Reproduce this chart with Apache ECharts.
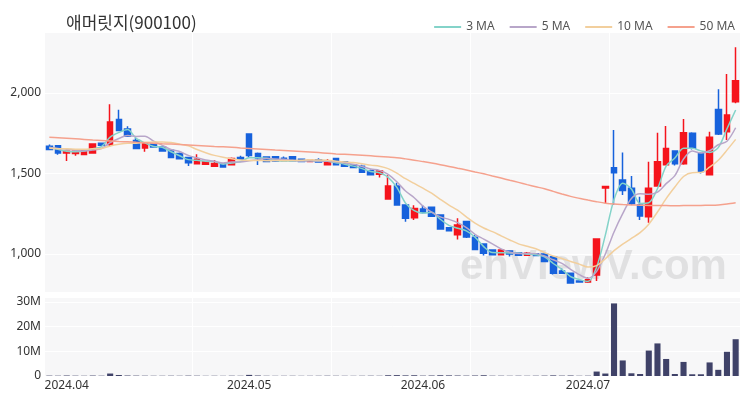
<!DOCTYPE html>
<html>
<head>
<meta charset="utf-8">
<script src="https://cdn.jsdelivr.net/npm/echarts@6/dist/echarts.min.js"></script>
<style>
  html, body { margin: 0; padding: 0; background: #fff; }
  #main { width: 750px; height: 400px; }
</style>
</head>
<body>
<div id="main"></div>
<script>
// trading days
var dates = [
  '2024-03-28','2024-03-29',
  '2024-04-01','2024-04-02','2024-04-03','2024-04-04','2024-04-05','2024-04-08','2024-04-09','2024-04-11','2024-04-12',
  '2024-04-15','2024-04-16','2024-04-17','2024-04-18','2024-04-19','2024-04-22','2024-04-23','2024-04-24','2024-04-25',
  '2024-04-26','2024-04-29','2024-04-30',
  '2024-05-02','2024-05-03','2024-05-07','2024-05-08','2024-05-09','2024-05-10','2024-05-13','2024-05-14','2024-05-16',
  '2024-05-17','2024-05-20','2024-05-21','2024-05-22','2024-05-23','2024-05-24','2024-05-27','2024-05-28','2024-05-29',
  '2024-05-30','2024-05-31',
  '2024-06-03','2024-06-04','2024-06-05','2024-06-07','2024-06-10','2024-06-11','2024-06-12','2024-06-13','2024-06-14',
  '2024-06-17','2024-06-18','2024-06-19','2024-06-20','2024-06-21','2024-06-24','2024-06-25','2024-06-26','2024-06-27',
  '2024-06-28',
  '2024-07-01','2024-07-02','2024-07-03','2024-07-04','2024-07-05','2024-07-08','2024-07-09','2024-07-10','2024-07-11',
  '2024-07-12','2024-07-15','2024-07-16','2024-07-17','2024-07-18','2024-07-19','2024-07-22','2024-07-23','2024-07-24'
];
var opens = [1670,1672,1628,1625,1618,1628,1688,1680,1836,1776,1705,1658,1683,1665,1644,1625,1600,1560,1558,1545,
  1558,1555,1600,1745,1625,1602,1604,1595,1604,1588,1575,1585,1555,1594,1573,1553,1545,1518,1495,1342,
  1422,1304,1225,1280,1290,1242,1163,1120,1202,1104,1062,1025,995,1018,1008,993,1002,1000,983,895,
  880,832,826,870,1410,1536,1460,1408,1304,1232,1422,1555,1640,1560,1750,1625,1492,1898,1760,1946];
var closes = [1650,1628,1638,1638,1642,1683,1676,1820,1768,1731,1655,1685,1665,1640,1600,1592,1567,1588,1573,1562,
  1540,1594,1588,1612,1596,1575,1578,1580,1580,1575,1582,1572,1575,1555,1545,1538,1508,1492,1515,1422,
  1305,1222,1283,1258,1235,1155,1145,1180,1105,1028,1005,995,1025,1000,992,1005,990,953,880,880,
  820,826,840,1093,1420,1505,1395,1312,1236,1408,1573,1656,1560,1753,1657,1512,1725,1746,1863,2076];
var lows = [1645,1617,1578,1610,1617,1625,1672,1668,1765,1728,1652,1636,1660,1636,1596,1588,1546,1557,1554,1540,
  1537,1550,1585,1600,1553,1572,1575,1577,1577,1572,1572,1570,1550,1552,1542,1535,1505,1490,1476,1340,
  1300,1200,1212,1252,1230,1150,1142,1090,1100,1025,990,992,993,985,990,990,988,950,873,876,
  815,822,820,832,1315,1304,1366,1305,1211,1194,1418,1550,1550,1555,1650,1500,1488,1740,1708,1936];
var highs = [1680,1675,1640,1645,1652,1686,1690,1930,1896,1793,1720,1692,1688,1670,1648,1630,1604,1619,1578,1584,
  1562,1600,1610,1748,1630,1605,1606,1605,1606,1590,1585,1595,1590,1598,1576,1556,1555,1525,1520,1490,
  1443,1306,1303,1304,1295,1245,1166,1222,1205,1118,1066,1030,1028,1022,1010,1012,1004,1003,985,911,
  885,836,855,1095,1421,1770,1630,1484,1356,1573,1753,1795,1645,1838,1757,1630,1760,2023,2118,2284];
var volumes = [150000,120000,200000,130000,100000,180000,120000,1000000,400000,200000,
  150000,120000,100000,100000,120000,100000,150000,120000,80000,100000,
  80000,120000,100000,450000,200000,100000,80000,90000,100000,80000,
  90000,100000,120000,100000,90000,80000,100000,120000,100000,300000,
  350000,250000,300000,150000,200000,300000,250000,200000,150000,200000,
  300000,120000,120000,100000,120000,100000,120000,150000,250000,150000,
  200000,100000,120000,1800000,1000000,29400000,6300000,1100000,800000,10300000,
  13200000,6900000,800000,5700000,700000,700000,5500000,2500000,9800000,14900000];
// closes before the first visible day (for 3/5/10 MA)
var prevCloses = [1655,1648,1660,1652,1645,1658,1662,1668,1672];
// 50 MA
var ma50 = [1725,1722,1719,1716,1712,1708,1705,1702,1699,1697,1694,1691,1688,1685,1683,1680,1677,1674,1671,1668,
  1666,1663,1659,1656,1653,1650,1646,1643,1640,1637,1634,1630,1626,1622,1619,1616,1613,1610,1606,1602,
  1598,1591,1583,1574,1565,1555,1544,1533,1522,1510,1498,1485,1472,1458,1445,1431,1418,1405,1389,1373,
  1358,1346,1335,1325,1316,1310,1307,1305,1303,1302,1301,1301,1300,1301,1301,1302,1303,1305,1310,1318];

var upColor = '#f5141c', downColor = '#1762dc';

function calcMA(n) {
  var all = prevCloses.concat(closes);
  var off = prevCloses.length;
  var res = [];
  for (var i = 0; i < closes.length; i++) {
    var sum = 0;
    for (var j = 0; j < n; j++) sum += all[off + i - j];
    res.push(+(sum / n).toFixed(1));
  }
  return res;
}

var kData = [];
for (var i = 0; i < dates.length; i++) {
  kData.push([opens[i], closes[i], lows[i], highs[i]]);
}

function monthStart(index) {
  return index > 0 && dates[index].slice(5, 7) !== dates[index - 1].slice(5, 7);
}
function vLine(index) {
  return index > 1 && index % 16 === 1;
}

var myChart = echarts.init(document.getElementById('main'));
var option = {
  animation: false,
  title: {
    text: '애머릿지(900100)',
    left: 61, top: 9,
    textStyle: { fontSize: 17, fontWeight: 'normal', color: '#333', fontFamily: 'Noto Sans CJK KR' }
  },
  legend: {
    right: 10, top: 16,
    itemWidth: 27, itemHeight: 2, itemGap: 14,
    textStyle: { fontSize: 12, color: '#555', fontFamily: 'Noto Sans' },
    data: ['3 MA', '5 MA', '10 MA', '50 MA']
  },
  graphic: [{
    type: 'text', left: 460, top: 246, z: 1, silent: true,
    style: { text: 'enVIewV.com', fill: 'rgba(0,0,0,0.09)', font: 'bold 42px "Liberation Sans", Arial, sans-serif' }
  }],
  grid: [
    { left: 45, right: 10, top: 33, height: 259, show: true, backgroundColor: '#f7f7f8', borderWidth: 0 },
    { left: 45, right: 10, top: 297, height: 79, show: true, backgroundColor: '#f7f7f8', borderWidth: 0 }
  ],
  xAxis: [
    {
      type: 'category', gridIndex: 0, data: dates, boundaryGap: true,
      axisLine: { show: false }, axisTick: { show: false }, axisLabel: { show: false },
      splitLine: { show: true, interval: vLine, lineStyle: { color: '#fff', width: 1 } }
    },
    {
      type: 'category', gridIndex: 1, data: dates, boundaryGap: true,
      axisLine: { show: false }, axisTick: { show: false },
      axisLabel: {
        interval: monthStart, margin: 4, fontSize: 12, color: '#333', fontFamily: 'Noto Sans',
        formatter: function (v) { return v.slice(0, 4) + '.' + v.slice(5, 7); }
      },
      splitLine: { show: true, interval: vLine, lineStyle: { color: '#fff', width: 1 } }
    }
  ],
  yAxis: [
    {
      type: 'value', gridIndex: 0, min: 764, max: 2373, scale: true,
      axisLine: { show: false },
      axisTick: { show: false, customValues: [1000, 1500, 2000] },
      axisLabel: {
        customValues: [1000, 1500, 2000], fontSize: 12, color: '#333', margin: 4, fontFamily: 'Noto Sans',
        formatter: function (v) { return String(v).replace(/\B(?=(\d{3})+(?!\d))/g, ','); }
      },
      splitLine: { show: true, lineStyle: { color: '#fff', width: 1 } }
    },
    {
      type: 'value', gridIndex: 1, min: 0, max: 32000000, interval: 10000000,
      axisLine: { show: false }, axisTick: { show: false },
      axisLabel: {
        fontSize: 12, color: '#333', margin: 4, fontFamily: 'Noto Sans',
        formatter: function (v) { return v === 0 ? '0' : (v / 1000000) + 'M'; }
      },
      splitLine: { show: true, lineStyle: { color: '#fff', width: 1 } }
    }
  ],
  series: [
    {
      name: 'price', type: 'candlestick', xAxisIndex: 0, yAxisIndex: 0, data: kData, barWidth: '70%', z: 3,
      itemStyle: { color: upColor, color0: downColor, borderColor: upColor, borderColor0: downColor, borderWidth: 1.5 }
    },
    {
      name: '3 MA', type: 'line', data: calcMA(3), symbol: 'none', smooth: 0.3, z: 4,
      lineStyle: { width: 1.5, color: '#84d3c9' }, itemStyle: { color: '#84d3c9' }
    },
    {
      name: '5 MA', type: 'line', data: calcMA(5), symbol: 'none', smooth: 0.3, z: 4,
      lineStyle: { width: 1.5, color: '#b8a6c9' }, itemStyle: { color: '#b8a6c9' }
    },
    {
      name: '10 MA', type: 'line', data: calcMA(10), symbol: 'none', smooth: 0.3, z: 4,
      lineStyle: { width: 1.5, color: '#f2cf9d' }, itemStyle: { color: '#f2cf9d' }
    },
    {
      name: '50 MA', type: 'line', data: ma50, symbol: 'none', smooth: 0.3, z: 4,
      lineStyle: { width: 1.5, color: '#f5a18d' }, itemStyle: { color: '#f5a18d' }
    },
    {
      name: 'volume', type: 'bar', xAxisIndex: 1, yAxisIndex: 1, data: volumes, barWidth: '70%',
      itemStyle: { color: '#3f4268' }
    }
  ]
};
myChart.setOption(option);
</script>
</body>
</html>
